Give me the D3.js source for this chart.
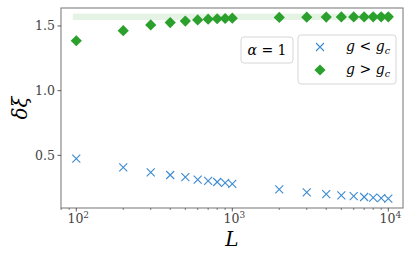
<!DOCTYPE html>
<html><head><meta charset="utf-8">
<script src="https://cdn.jsdelivr.net/npm/d3@7"></script>
<style>body{margin:0;background:#fff}svg{display:block}</style>
</head><body><svg id="c" width="411" height="257"></svg>
<script>
const Ls = [100,200,300,400,500,600,700,800,900,1000,2000,3000,4000,5000,6000,7000,8000,9000,10000];
const below = [0.474,0.407,0.369,0.348,0.331,0.312,0.302,0.294,0.287,0.279,0.237,0.214,0.200,0.190,0.184,0.178,0.174,0.170,0.166];
const above = [1.386,1.464,1.508,1.526,1.538,1.547,1.553,1.556,1.558,1.560,1.566,1.568,1.569,1.570,1.570,1.570,1.571,1.571,1.571];
const bandX = [95,10600];
const bandY = [1.546,1.596];
const yTicks = [0.5,1.0,1.5];
const xTicks = [100,1000,10000];

const svg = d3.select("#c");
const FF = "DejaVu Serif";
const m = {l:61,r:403,t:8,b:208};
const x = d3.scaleLog().domain([79.8,12420]).range([m.l,m.r]);
const y = d3.scaleLinear().domain([0.093,1.639]).range([m.b,m.t]);
const axisCol = "#8a8a8a";

svg.append("rect").attr("x",x(bandX[0])).attr("width",x(bandX[1])-x(bandX[0]))
  .attr("y",y(bandY[1])).attr("height",y(bandY[0])-y(bandY[1])).attr("fill","#2ca02c").attr("fill-opacity",0.12);

const cs=4;
svg.append("g").selectAll("path").data(Ls.map((L,i)=>[L,below[i]])).join("path")
  .attr("d",d=>{const cx=x(d[0]),cy=y(d[1]);return `M${cx-cs},${cy-cs}L${cx+cs},${cy+cs}M${cx-cs},${cy+cs}L${cx+cs},${cy-cs}`;})
  .attr("stroke","#3b8bd0").attr("stroke-width",1.1).attr("fill","none");

const ds=5.6;
svg.append("g").selectAll("path").data(Ls.map((L,i)=>[L,above[i]])).join("path")
  .attr("d",d=>{const cx=x(d[0]),cy=y(d[1]);return `M${cx},${cy-ds}L${cx+ds},${cy}L${cx},${cy+ds}L${cx-ds},${cy}Z`;})
  .attr("fill","#2ca02c");

svg.append("rect").attr("x",m.l).attr("y",m.t).attr("width",m.r-m.l).attr("height",m.b-m.t)
  .attr("fill","none").attr("stroke",axisCol).attr("stroke-width",1.2);

const yg = svg.append("g");
yTicks.forEach(v=>{
  yg.append("line").attr("x1",m.l-3.5).attr("x2",m.l).attr("y1",y(v)).attr("y2",y(v)).attr("stroke","#333").attr("stroke-width",0.8);
  yg.append("text").attr("x",m.l-6).attr("y",y(v)).attr("dy","0.35em").attr("text-anchor","end")
    .style("font-family",FF).attr("font-size",12.5).attr("fill","#444").text(v.toFixed(1));
});
const xg = svg.append("g");
xTicks.forEach(v=>{
  xg.append("line").attr("x1",x(v)).attr("x2",x(v)).attr("y1",m.b).attr("y2",m.b+3.5).attr("stroke","#333").attr("stroke-width",0.8);
  const t = xg.append("text").attr("x",x(v)+2).attr("y",m.b+14.5).attr("text-anchor","middle").style("font-family",FF).attr("font-size",12.5).attr("fill","#444");
  t.append("tspan").text("10");
  t.append("tspan").attr("dy",-5).attr("font-size",9).text(String(Math.round(Math.log10(v))));
});
const minors=[];
for(let e=1;e<=4;e++)for(let k=2;k<=9;k++){const v=k*Math.pow(10,e);if(v>x.domain()[0]&&v<x.domain()[1])minors.push(v);}
minors.forEach(v=>xg.append("line").attr("x1",x(v)).attr("x2",x(v)).attr("y1",m.b).attr("y2",m.b+2).attr("stroke","#333").attr("stroke-width",0.6));

svg.append("text").attr("x",(m.l+m.r)/2).attr("y",246).attr("text-anchor","middle").style("font-family",FF).attr("font-size",20).attr("font-style","italic").text("L");
svg.append("text").attr("transform",`translate(27,${(m.t+m.b)/2}) rotate(-90)`).attr("text-anchor","middle").style("font-family",FF).attr("font-size",20).attr("font-style","italic").text("δξ");

svg.append("rect").attr("x",241).attr("y",37).attr("width",52).attr("height",26).attr("rx",3)
  .attr("fill","#fff").attr("fill-opacity",0.8).attr("stroke","#d6d6d6").attr("stroke-width",1);
const at = svg.append("text").attr("x",267).attr("y",55).attr("text-anchor","middle").style("font-family",FF).attr("font-size",14);
at.append("tspan").attr("font-style","italic").text("α");
at.append("tspan").text(" = 1");

svg.append("rect").attr("x",298).attr("y",35).attr("width",98).attr("height",49).attr("rx",3)
  .attr("fill","#fff").attr("fill-opacity",0.8).attr("stroke","#d6d6d6").attr("stroke-width",1);
const lx=320, ly1=47, ly2=70;
svg.append("path").attr("d",`M${lx-cs},${ly1-cs}L${lx+cs},${ly1+cs}M${lx-cs},${ly1+cs}L${lx+cs},${ly1-cs}`).attr("stroke","#3b8bd0").attr("stroke-width",1.1);
svg.append("path").attr("d",`M${lx},${ly2-ds}L${lx+ds},${ly2}L${lx},${ly2+ds}L${lx-ds},${ly2}Z`).attr("fill","#2ca02c");
function gl(yy,op){
  const t=svg.append("text").attr("x",390).attr("y",yy).attr("text-anchor","end").style("font-family",FF).attr("font-size",14);
  t.append("tspan").attr("font-style","italic").text("g");
  t.append("tspan").text(" "+op+" ");
  t.append("tspan").attr("font-style","italic").text("g");
  t.append("tspan").attr("font-style","italic").attr("font-size",9.5).attr("dy",3).text("c");
}
gl(ly1+4,"<"); gl(ly2+4,">");
</script></body></html>
